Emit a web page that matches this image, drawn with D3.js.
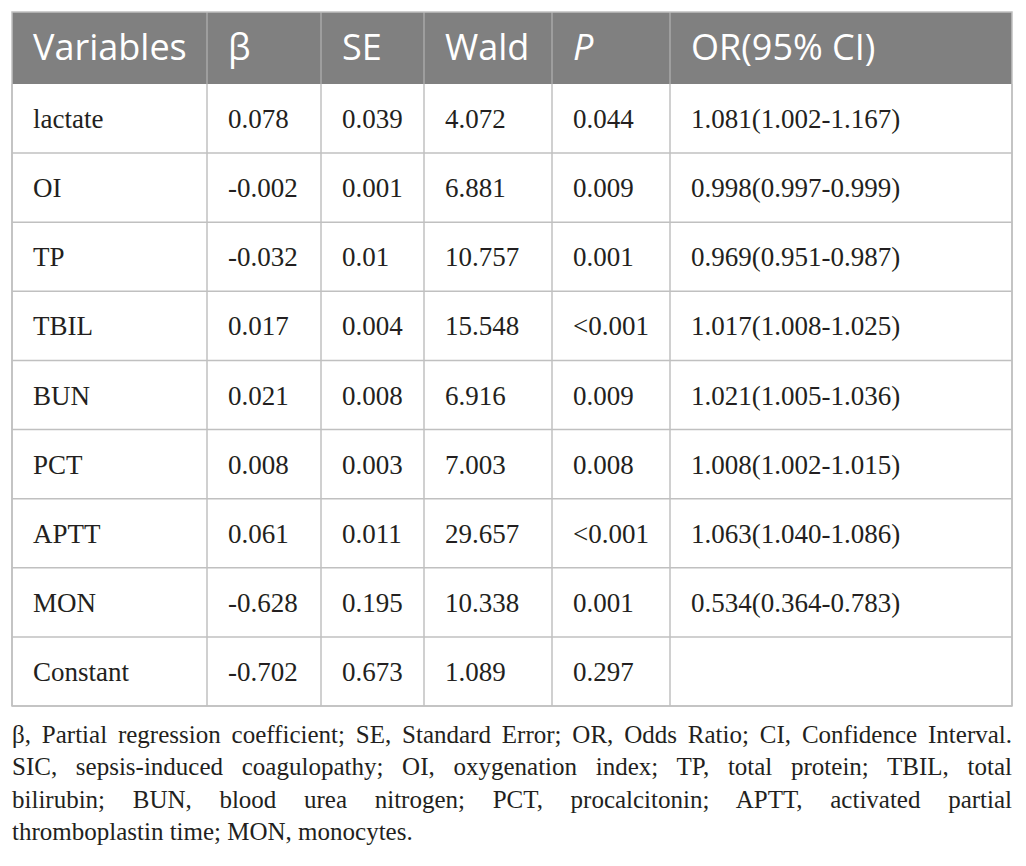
<!DOCTYPE html>
<html>
<head>
<meta charset="utf-8">
<script src="https://cdn.jsdelivr.net/npm/d3@7"></script>
<style>
  body { margin: 0; background: #fff; }
</style>
</head>
<body>
<div class="table"></div>
<script>
// Table content.
var headers = ["Variables", "β", "SE", "Wald", "P", "OR(95% CI)"];
var variables = ["lactate", "OI", "TP", "TBIL", "BUN", "PCT", "APTT", "MON", "Constant"];
var beta = ["0.078", "-0.002", "-0.032", "0.017", "0.021", "0.008", "0.061", "-0.628", "-0.702"];
var se = ["0.039", "0.001", "0.01", "0.004", "0.008", "0.003", "0.011", "0.195", "0.673"];
var wald = ["4.072", "6.881", "10.757", "15.548", "6.916", "7.003", "29.657", "10.338", "1.089"];
var pValues = ["0.044", "0.009", "0.001", "<0.001", "0.009", "0.008", "<0.001", "0.001", "0.297"];
var orCI = ["1.081(1.002-1.167)", "0.998(0.997-0.999)", "0.969(0.951-0.987)", "1.017(1.008-1.025)",
            "1.021(1.005-1.036)", "1.008(1.002-1.015)", "1.063(1.040-1.086)", "0.534(0.364-0.783)", ""];
var footnote = [
  "β, Partial regression coefficient; SE, Standard Error; OR, Odds Ratio; CI, Confidence Interval.",
  "SIC, sepsis-induced coagulopathy; OI, oxygenation index; TP, total protein; TBIL, total",
  "bilirubin; BUN, blood urea nitrogen; PCT, procalcitonin; APTT, activated partial",
  "thromboplastin time; MON, monocytes."
];

var width = 1026, height = 866;
var left = 12, right = 1012;
var headTop = 12, headBottom = 84, tableBottom = 706;
var colEdges = [12, 207, 321, 424, 552, 670, 1012];
var pad = 21;

var columns = [variables, beta, se, wald, pValues, orCI];

var svg = d3.select(".table").append("svg")
    .attr("width", width)
    .attr("height", height);

// Rows as a band scale.
var y = d3.scaleBand()
    .domain(d3.range(variables.length))
    .range([headBottom, tableBottom]);

// Header background
svg.append("rect")
    .attr("x", left).attr("y", headTop)
    .attr("width", right - left).attr("height", headBottom - headTop)
    .attr("fill", "#808080");

// Header labels
svg.selectAll(".head")
    .data(headers)
    .enter().append("text")
    .attr("class", "head")
    .attr("x", (d, i) => colEdges[i] + pad)
    .attr("y", (headTop + headBottom) / 2 + 12)
    .attr("fill", "#fff")
    .attr("font-family", "'Open Sans', sans-serif")
    .attr("font-size", 36)
    .attr("font-style", d => d === "P" ? "italic" : "normal")
    .text(d => d);

// Body cells
columns.forEach((col, c) => {
  svg.selectAll(".cell" + c)
      .data(col)
      .enter().append("text")
      .attr("class", "cell" + c)
      .attr("x", colEdges[c] + pad)
      .attr("y", (d, i) => y(i) + y.bandwidth() / 2 + 9.5)
      .attr("fill", "#231f20")
      .attr("font-family", "'Liberation Serif', 'Times New Roman', serif")
      .attr("font-size", 27)
      .text(d => d);
});

// Grid lines
var grid = svg.append("g").attr("stroke", "#c0c0c0").attr("stroke-width", 1.5);
grid.selectAll(".hline")
    .data(d3.range(1, variables.length + 1))
    .enter().append("line")
    .attr("x1", left).attr("x2", right)
    .attr("y1", i => y(i) !== undefined ? y(i) : tableBottom)
    .attr("y2", i => y(i) !== undefined ? y(i) : tableBottom);
grid.selectAll(".vline")
    .data(colEdges)
    .enter().append("line")
    .attr("x1", d => d).attr("x2", d => d)
    .attr("y1", headBottom).attr("y2", tableBottom);
// Header separators, a bit lighter on the grey
svg.append("g").attr("stroke", "#a8a8a8").attr("stroke-width", 1.5)
  .selectAll("line")
    .data(colEdges.slice(1, -1))
    .enter().append("line")
    .attr("x1", d => d).attr("x2", d => d)
    .attr("y1", headTop).attr("y2", headBottom);
svg.append("rect")
    .attr("x", left).attr("y", headTop)
    .attr("width", right - left).attr("height", tableBottom - headTop)
    .attr("fill", "none").attr("stroke", "#c0c0c0").attr("stroke-width", 1.5);

// Footnote, justified to the table width
var note = svg.append("g")
    .attr("fill", "#231f20")
    .attr("font-family", "'Liberation Serif', 'Times New Roman', serif");

var noteSize = 25;
var probe = note.append("text").attr("font-size", noteSize).text(footnote[0]);
var w0 = probe.node().getComputedTextLength();
probe.remove();
if (w0 > right - left) noteSize = noteSize * (right - left) / w0 * 0.995;

footnote.forEach((line, i) => {
  var t = note.append("text")
      .attr("x", left)
      .attr("y", 743 + i * 32.4)
      .attr("font-size", noteSize)
      .text(line);
  if (i < footnote.length - 1) {
    var gaps = line.split(" ").length - 1;
    var extra = (right - left) - t.node().getComputedTextLength();
    t.style("word-spacing", (extra / gaps) + "px");
  }
});
</script>
</body>
</html>
